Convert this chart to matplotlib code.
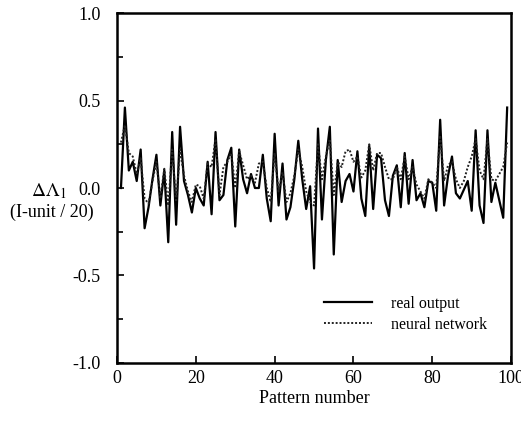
import matplotlib
matplotlib.use("Agg")
import matplotlib.pyplot as plt
from matplotlib.ticker import MultipleLocator

pattern = list(range(1, 100))
real_output = [0.00, 0.46, 0.10, 0.15, 0.04, 0.22, -0.23, -0.11, 0.05, 0.19,
               -0.10, 0.10, -0.31, 0.32, -0.21, 0.35, 0.04, -0.04, -0.14, 0.00,
               -0.06, -0.10, 0.15, -0.15, 0.32, -0.07, -0.04, 0.16, 0.23, -0.22,
               0.22, 0.05, -0.03, 0.08, 0.00, 0.00, 0.19, -0.06, -0.19, 0.31,
               -0.10, 0.14, -0.18, -0.11, 0.05, 0.27, 0.05, -0.12, 0.01, -0.46,
               0.34, -0.18, 0.16, 0.35, -0.38, 0.16, -0.08, 0.04, 0.08, -0.02,
               0.21, -0.06, -0.16, 0.24, -0.12, 0.19, 0.17, -0.07, -0.16, 0.07,
               0.13, -0.11, 0.20, -0.09, 0.16, -0.07, -0.03, -0.11, 0.04, 0.03,
               -0.13, 0.39, -0.10, 0.07, 0.18, -0.03, -0.06, -0.01, 0.04, -0.13,
               0.33, -0.10, -0.20, 0.33, -0.08, 0.03, -0.07, -0.17, 0.46]
neural_network = [0.26, 0.36, 0.20, 0.18, 0.08, 0.17, -0.06, -0.09, 0.04, 0.15,
                  -0.06, 0.11, -0.10, 0.22, -0.08, 0.22, 0.07, -0.02, -0.08, 0.02,
                  0.01, -0.06, 0.14, 0.12, 0.28, -0.04, 0.12, 0.15, 0.20, 0.00,
                  0.21, 0.13, 0.05, 0.07, 0.03, 0.14, 0.15, 0.00, -0.08, 0.20,
                  -0.02, 0.09, -0.08, -0.03, 0.07, 0.22, 0.12, -0.02, -0.08, -0.10,
                  0.25, 0.05, 0.18, 0.28, -0.04, 0.15, 0.12, 0.21, 0.22, 0.15,
                  0.18, 0.06, 0.10, 0.25, 0.10, 0.20, 0.20, 0.12, 0.05, 0.05,
                  0.12, 0.05, 0.18, 0.05, 0.12, 0.02, -0.02, -0.06, 0.05, 0.03,
                  0.00, 0.30, 0.04, 0.13, 0.15, 0.05, 0.00, 0.04, 0.12, 0.18,
                  0.28, 0.10, 0.05, 0.28, 0.05, 0.04, 0.08, 0.12, 0.26]

x_ticks = [0, 20, 40, 60, 80, 100]
y_ticks = [-1.0, -0.5, 0.0, 0.5, 1.0]

plt.rcParams['font.family'] = ['Liberation Serif', 'DejaVu Serif']

fig = plt.figure(figsize=(5.21, 4.22), dpi=100)
ax = fig.add_axes([0.2246, 0.140, 0.7564, 0.829])

ax.plot(pattern, real_output, color='black', lw=1.6, label='real output')
ax.plot(pattern, neural_network, color='#222222', lw=1.4, ls=(0, (1, 1)),
        label='neural network')

ax.set_xlim(0, 100)
ax.set_ylim(-1.0, 1.0)
ax.set_xticks(x_ticks)
ax.set_yticks(y_ticks)
ax.set_yticklabels([f"{v:.1f}" for v in y_ticks])
ax.yaxis.set_minor_locator(MultipleLocator(0.25))
ax.tick_params(axis='both', which='both', direction='in', top=False, right=False,
               labelsize=13, width=1.2)
ax.tick_params(axis='both', which='major', length=5)
ax.tick_params(axis='y', which='minor', length=4)
ax.tick_params(axis='y', pad=12)
ax.tick_params(axis='x', pad=5)
for s in ax.spines.values():
    s.set_linewidth(1.8)

ax.set_xlabel('Pattern number', fontsize=13, labelpad=2)
fig.text(0.093, 0.548, r'$\Delta\Lambda_1$', fontsize=14, ha='center', va='center',
         math_fontfamily='stix')
fig.text(0.10, 0.497, '(I-unit / 20)', fontsize=13, ha='center', va='center')

leg = ax.legend(loc='lower left', bbox_to_anchor=(0.51, 0.068), frameon=False,
                fontsize=11.5, handlelength=3.0, handletextpad=1.2,
                labelspacing=0.3, borderaxespad=0.0)

fig.savefig('out.png', dpi=100)
